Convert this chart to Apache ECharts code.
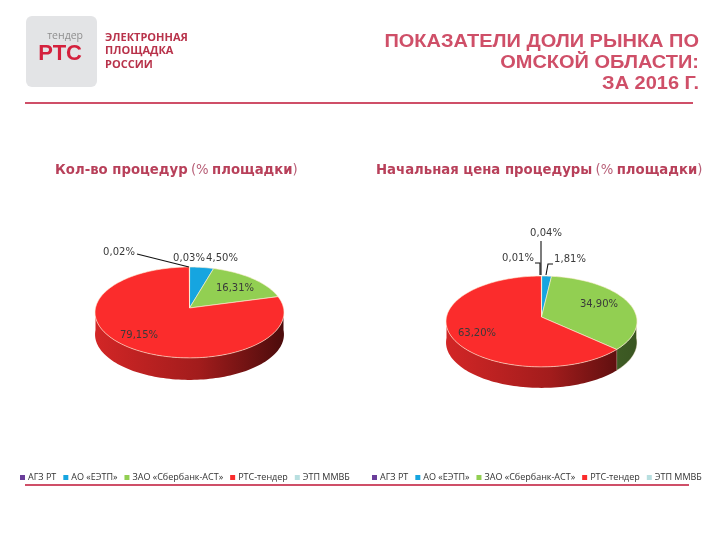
<!DOCTYPE html>
<html><head><meta charset="utf-8">
<style>html,body{margin:0;padding:0;background:#fff}#c{width:720px;height:540px}</style>
<script src="https://cdn.jsdelivr.net/npm/echarts@6/dist/echarts.min.js"></script>
</head><body><div id="c"></div>
<script>
const companies = ['АГЗ РТ','АО «ЕЭТП»','ЗАО «Сбербанк-АСТ»','РТС-тендер','ЭТП ММВБ'];
const colors = ['#6a3d9a','#16a5e0','#92cf52','#fb2c2c','#b8dfe0'];
const wallStops = [
  ['#3d2460','#2a1844','#1c102e'],
  ['#0f6f98','#0b5070','#073448'],
  ['#5e8a34','#4a6c2a','#3a5622'],
  ['#d22626','#a21c1c','#4c0c0c'],
  ['#7a9a9a','#5a7a7a','#3a5a5a']
];
const leftValues = [0.03, 4.50, 16.31, 79.15, 0.02];
const rightValues = [0.04, 1.81, 34.90, 63.20, 0.01];
const pieLeft = {cx:189.5, cy:308, rx:94, ry:45, depth:22, k:0.098};
const pieRight = {cx:541.5, cy:317, rx:95, ry:45, depth:21, k:0.098};
const labelsLeft = [[189,258],[222,258],[235,288],[139,335],[119,252]];
const labelsRight = [[546,233],[570,259],[599,304],[477,333],[518,258]];
const leadersLeft = [null,null,null,null,[[137,254],[189,267]]];
const leadersRight = [[[541,241],[541,275]],[[553,264],[548,264],[546,275]],null,null,[[535,263],[540,263],[540,275]]];

function proj(p, t){
  const X = Math.sin(t), Y = -Math.cos(t), d = 1 - p.k * Y;
  return [p.cx + p.rx * X / d, p.cy + p.ry * Y / d];
}
function arc(p, a, b, dy){
  const n = Math.max(2, Math.ceil((b - a) / 0.03)), out = [];
  for (let i = 0; i <= n; i++){
    const q = proj(p, a + (b - a) * i / n);
    out.push([q[0], q[1] + dy]);
  }
  return out;
}
function fmt(v){ return v.toFixed(2).replace('.', ',') + '%'; }

function sliceSeries(p, vals, labels, leaders){
  const total = vals.reduce((a,b)=>a+b,0);
  let acc = 0;
  return vals.map((v,i)=>{
    const a = acc / total * 2 * Math.PI; acc += v;
    const b = acc / total * 2 * Math.PI;
    return {
      type:'custom', name:companies[i], coordinateSystem:'none',
      itemStyle:{color:colors[i]}, data:[[v]], silent:true, animation:false, z:2,
      renderItem(){
        const ch = [];
        const wa = Math.max(a, Math.PI/2), wb = Math.min(b, 3*Math.PI/2);
        if (wb > wa){
          const top = arc(p, wa, wb, 0), bot = arc(p, wa, wb, p.depth).reverse();
          ch.push({type:'polygon', shape:{points:top.concat(bot)}, z2:1, style:{
            fill:{type:'linear', x:p.cx-p.rx, y:0, x2:p.cx+p.rx, y2:0, global:true,
              colorStops:[{offset:0,color:wallStops[i][0]},{offset:.55,color:wallStops[i][1]},{offset:1,color:wallStops[i][2]}]},
            stroke:'rgba(255,235,215,.55)', lineWidth:i===2 ? 0.8 : 0}});
        }
        ch.push({type:'polygon', z2:2, shape:{points:[[p.cx,p.cy]].concat(arc(p,a,b,0))},
          style:{fill:colors[i], stroke:'rgba(255,240,215,.85)', lineWidth:0.7}});
        if (leaders[i]) ch.push({type:'polyline', z2:5, shape:{points:leaders[i]},
          style:{fill:null, stroke:'#111', lineWidth:1.1}});
        ch.push({type:'text', z2:6, x:labels[i][0], y:labels[i][1], style:{
          text:fmt(v), fill:'#3a3a3a', font:'10px "DejaVu Sans"', align:'center', verticalAlign:'middle'}});
        return {type:'group', children:ch};
      }
    };
  });
}
const legendBase = {data:companies, icon:'rect', itemWidth:5, itemHeight:5, itemGap:7, orient:'horizontal',
  selectedMode:false, textStyle:{fontFamily:'Open Sans', fontSize:9, color:'#333', padding:[0,0,0,-2]}};
const txt = (x,y,text,font,fill,align)=>({type:'text', x, y, silent:true, style:{text, font, fill, align:align||'left', verticalAlign:'middle'}});
const rose = '#cf4f68';
const titleLine = (y,s)=>Object.assign(txt(699,y,s,'bold 18px "Liberation Sans"',rose,'right'),{scaleX:1.11});
const headRich = {b:{fontFamily:'DejaVu Sans', fontWeight:'bold', fontSize:13.25, fill:'#b8405a'},
                  n:{fontFamily:'DejaVu Sans', fontSize:13.25, fill:'#b86078'}};
const head = (x,y,s)=>({type:'text', x, y, silent:true, style:{text:s, rich:headRich, verticalAlign:'middle', align:'left'}});
const chart = echarts.init(document.getElementById('c'), null, {renderer:'canvas'});
chart.setOption({
  animation:false,
  backgroundColor:'#fff',
  legend:[Object.assign({left:15, top:468}, legendBase), Object.assign({left:367, top:468}, legendBase)],
  series:sliceSeries(pieLeft,leftValues,labelsLeft,leadersLeft).concat(sliceSeries(pieRight,rightValues,labelsRight,leadersRight)),
  graphic:[
    {type:'rect', shape:{x:26,y:16,width:71,height:71,r:6}, silent:true, style:{fill:'#e3e4e6'}},
    txt(83,36,'тендер','10.5px "Open Sans"','#8f8f8f','right'),
    txt(82,54,'РТС','bold 22px "Liberation Sans"','#d4213d','right'),
    txt(105,38,'ЭЛЕКТРОННАЯ','bold 11px "Open Sans"','#b8324a'),
    txt(105,51,'ПЛОЩАДКА','bold 11px "Open Sans"','#b8324a'),
    txt(105,65,'РОССИИ','bold 11px "Open Sans"','#b8324a'),
    titleLine(42,'ПОКАЗАТЕЛИ ДОЛИ РЫНКА ПО'),
    titleLine(63,'ОМСКОЙ ОБЛАСТИ:'),
    titleLine(84,'ЗА 2016 Г.'),
    {type:'rect', shape:{x:25,y:102,width:668,height:2}, silent:true, style:{fill:rose}},
    {type:'rect', shape:{x:25,y:484,width:664,height:2}, silent:true, style:{fill:rose}},
    head(55,171,'{b|Кол-во процедур} {n|(%} {b|площадки}{n|)}'),
    head(376,171,'{b|Начальная цена процедуры} {n|(%} {b|площадки}{n|)}')
  ]
});
</script></body></html>
